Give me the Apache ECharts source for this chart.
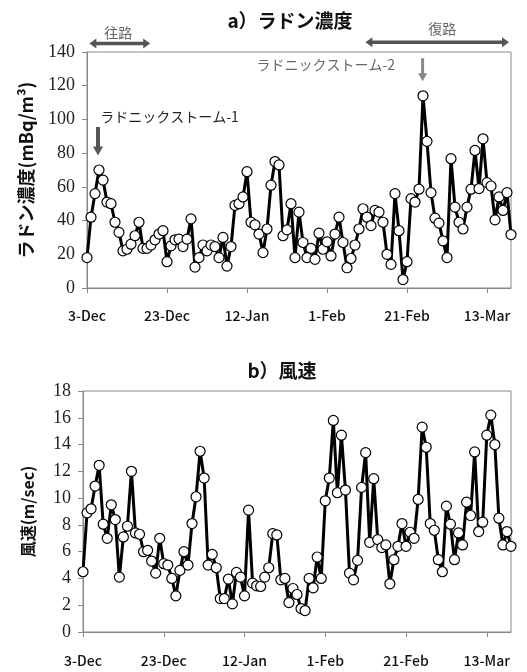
<!DOCTYPE html>
<html><head><meta charset="utf-8">
<script src="https://cdn.jsdelivr.net/npm/echarts@6/dist/echarts.min.js"></script>
<style>html,body{margin:0;padding:0;background:#fff}#c{width:527px;height:672px}</style>
</head><body><div id="c"></div>
<script>
// x tick labels (every 20 days from 3-Dec)
const tickLabels = ['3-Dec', '23-Dec', '12-Jan', '1-Feb', '21-Feb', '13-Mar'];
// daily radon concentration (mBq/m3), 3-Dec .. 19-Mar
const radon = [
  18, 42, 56, 70, 64, 51, 50, 39, 33, 22,
  23, 26, 31, 39, 23.5, 23.5, 25.5, 28.6, 32, 34,
  15.6, 25, 28.6, 29, 24.6, 29, 41, 12.4, 18, 25.5,
  22, 25.5, 24.6, 18, 30, 13, 24.6, 49, 50, 54,
  69, 39, 37.5, 32, 21, 35, 61, 75, 73, 31,
  34.5, 50, 18, 45, 27, 18, 23.5, 17, 32.5, 23,
  27.4, 19, 32, 42, 27, 12, 17.5, 25.5, 35, 47,
  42, 37, 46, 45, 39, 20, 14, 56, 34, 5,
  15.6, 53, 51, 58.6, 114, 87, 56.6, 41.4, 38.5, 28,
  18, 76.7, 48, 39, 35, 48, 58.6, 81.6, 59, 88.5,
  62.5, 60.5, 40.4, 54, 46, 56.6, 31.7
];
// daily wind speed (m/sec)
const wind = [
  4.5, 8.9, 9.2, 10.9, 12.45, 8.05, 7.0, 9.5, 8.4, 4.1,
  7.1, 7.9, 12.0, 7.4, 7.3, 6.0, 6.1, 5.3, 4.4, 7.0,
  5.1, 5.0, 4.0, 2.7, 4.6, 6.0, 5.0, 8.1, 10.1, 13.5,
  11.5, 5.0, 5.8, 4.8, 2.5, 2.5, 3.95, 2.1, 4.45, 4.1,
  2.7, 9.1, 3.65, 3.45, 3.4, 4.1, 4.8, 7.35, 7.25, 3.9,
  4.0, 2.2, 3.25, 2.8, 1.75, 1.6, 4.0, 3.3, 5.6, 4.0,
  9.8, 11.5, 15.8, 10.4, 14.7, 10.6, 4.4, 3.9, 5.35, 10.8,
  13.4, 6.7, 11.45, 6.9, 6.3, 6.5, 3.6, 5.4, 6.4, 8.1,
  6.4, 7.45, 7.0, 9.9, 15.3, 13.8, 8.1, 7.6, 5.4, 4.5,
  9.4, 8.05, 5.4, 7.4, 6.5, 9.7, 8.7, 13.45, 7.5, 8.2,
  14.7, 16.2, 14.0, 8.5, 6.5, 7.5, 6.4
];

const chart = echarts.init(document.getElementById('c'), null, {renderer: 'canvas'});
const lastDay = radon.length - 1;
const xAxisCommon = {
  type: 'value', min: 0, max: lastDay, interval: 20,
  axisLine: {show: true, lineStyle: {color: '#888', width: 1}},
  axisTick: {show: true, length: 5, lineStyle: {color: '#888'}},
  splitLine: {show: false},
  axisLabel: {
    color: '#111', fontSize: 14, fontFamily: '"Noto Sans CJK JP"', fontWeight: 500,
    formatter: v => (v % 20 === 0 && tickLabels[v / 20]) ? tickLabels[v / 20] : '',
    showMaxLabel: false
  }
};
const yLabel = {color: '#222', fontSize: 18, fontFamily: '"Liberation Serif", "DejaVu Serif", serif', margin: 12};
const seriesCommon = {
  type: 'line', symbol: 'circle', symbolSize: 10,
  itemStyle: {color: '#fff', borderColor: '#000', borderWidth: 1.2},
  lineStyle: {color: '#000', width: 3},
  emphasis: {disabled: true}, animation: false, clip: false
};

chart.setOption({
  animation: false,
  backgroundColor: '#fff',
  title: [
    {text: 'a）ラドン濃度', left: 285, top: 6, textAlign: 'center',
     textStyle: {fontSize: 19, fontWeight: 'bold', fontFamily: '"Noto Sans CJK JP"', color: '#111'}},
    {text: 'b）風速', left: 277, top: 356, textAlign: 'center',
     textStyle: {fontSize: 19, fontWeight: 'bold', fontFamily: '"Noto Sans CJK JP"', color: '#111'}}
  ],
  grid: [
    {left: 87, right: 16, top: 52, height: 236, show: true, borderColor: '#888', borderWidth: 1, containLabel: false},
    {left: 83, right: 16, top: 391, height: 241, show: true, borderColor: '#888', borderWidth: 1, containLabel: false}
  ],
  xAxis: [
    Object.assign({gridIndex: 0}, xAxisCommon, {axisLabel: Object.assign({}, xAxisCommon.axisLabel, {margin: 21})}),
    Object.assign({gridIndex: 1}, xAxisCommon, {axisLabel: Object.assign({}, xAxisCommon.axisLabel, {margin: 22})})
  ],
  yAxis: [
    {gridIndex: 0, type: 'value', min: 0, max: 140, interval: 20,
     name: 'ラドン濃度(mBq/m³)', nameLocation: 'middle', nameGap: 52, nameRotate: 90,
     nameTextStyle: {fontSize: 18, fontWeight: 'bold', fontFamily: '"Noto Sans CJK JP"', color: '#111'},
     axisLine: {show: true, lineStyle: {color: '#888'}},
     axisTick: {show: true, length: 5, lineStyle: {color: '#888'}},
     splitLine: {show: false}, axisLabel: yLabel},
    {gridIndex: 1, type: 'value', min: 0, max: 18, interval: 2,
     name: '風速(m/sec)', nameLocation: 'middle', nameGap: 47, nameRotate: 90,
     nameTextStyle: {fontSize: 16, fontWeight: 'bold', fontFamily: '"Noto Sans CJK JP"', color: '#111'},
     axisLine: {show: true, lineStyle: {color: '#888'}},
     axisTick: {show: true, length: 5, lineStyle: {color: '#888'}},
     splitLine: {show: false}, axisLabel: yLabel}
  ],
  series: [
    Object.assign({}, seriesCommon, {xAxisIndex: 0, yAxisIndex: 0, data: radon.map((v, i) => [i, v])}),
    Object.assign({}, seriesCommon, {xAxisIndex: 1, yAxisIndex: 1, data: wind.map((v, i) => [i, v])})
  ]
});

// annotations anchored in data coordinates of the top panel
const P = (x, y) => chart.convertToPixel({gridIndex: 0}, [x, y]);
function hArrow(x1, x2, y, color, w) {
  const a = P(x1, y), b = P(x2, y);
  const hl = 7, hh = 5;
  return [
    {type: 'line', shape: {x1: a[0] + hl - 1, y1: a[1], x2: b[0] - hl + 1, y2: b[1]}, style: {stroke: color, lineWidth: w}},
    {type: 'polygon', shape: {points: [[a[0], a[1]], [a[0] + hl, a[1] - hh], [a[0] + hl, a[1] + hh]]}, style: {fill: color}},
    {type: 'polygon', shape: {points: [[b[0], b[1]], [b[0] - hl, b[1] - hh], [b[0] - hl, b[1] + hh]]}, style: {fill: color}}
  ];
}
function vArrow(x, yTop, yTip, color, w, hw, hl) {
  const a = P(x, yTop), b = P(x, yTip);
  return [
    {type: 'rect', shape: {x: a[0] - w / 2, y: a[1], width: w, height: b[1] - a[1] - hl + 1}, style: {fill: color}},
    {type: 'polygon', shape: {points: [[b[0], b[1]], [b[0] - hw, b[1] - hl], [b[0] + hw, b[1] - hl]]}, style: {fill: color}}
  ];
}
function label(text, x, y, color, size, align) {
  const p = P(x, y);
  return {type: 'text', x: p[0], y: p[1],
    style: {text: text, fill: color, fontSize: size, fontFamily: '"Noto Sans CJK JP"', align: align || 'center', verticalAlign: 'middle'}};
}
const g = [].concat(
  hArrow(0.6, 15.8, 145, '#555', 3.5),
  hArrow(69.6, 105.5, 145.8, '#555', 3.5),
  [label('往路', 7.8, 151.5, '#666', 14)],
  [label('復路', 88.8, 154, '#666', 14)],
  [label('ラドニックストーム-1', 3.3, 101.5, '#222', 14, 'left')],
  vArrow(2.75, 95.5, 78.6, '#555', 4, 5, 9),
  [label('ラドニックストーム-2', 59.7, 132.6, '#666', 14)],
  vArrow(83.9, 136.3, 122.6, '#888', 3, 4.5, 8)
);
chart.setOption({graphic: g});
</script>
</body></html>
